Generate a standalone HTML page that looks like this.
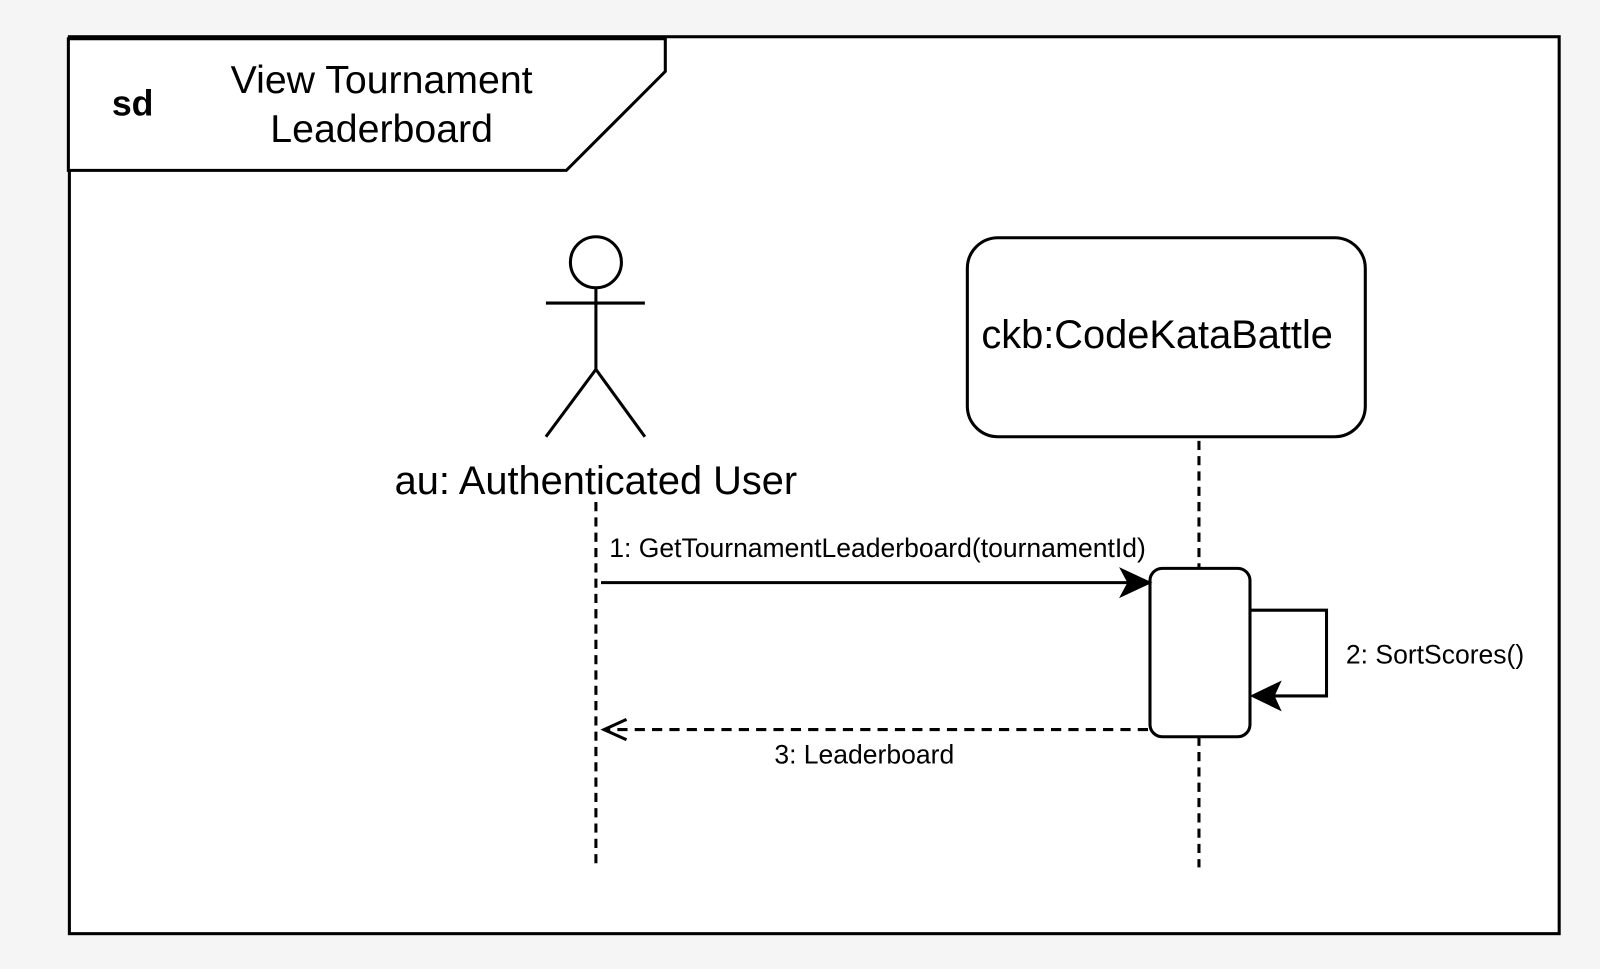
<!DOCTYPE html>
<html><head><style>
html,body{margin:0;padding:0;background:#f5f5f5;}
svg{display:block;}
text{font-family:"Liberation Sans",Arial,sans-serif;fill:#000;}
</style></head><body>
<svg width="1600" height="969" viewBox="0 0 1600 969" xmlns="http://www.w3.org/2000/svg">
<rect x="0" y="0" width="1600" height="969" fill="#f5f5f5"/>
<g transform="scale(1.0204)">
<rect x="68" y="36" width="1460" height="879" fill="#fff" stroke="#000" stroke-width="3"/>
<path d="M67 38 L652 38 L652 70 L555 167 L67 167 Z" fill="#fff" stroke="#000" stroke-width="3"/>
<text x="130" y="113" font-size="35" font-weight="bold" text-anchor="middle">sd</text>
<text x="374" y="91" font-size="38.5" text-anchor="middle">View Tournament</text>
<text x="374" y="139" font-size="38.5" text-anchor="middle">Leaderboard</text>
<g stroke="#000" stroke-width="3" fill="none">
<circle cx="584" cy="257" r="25" fill="#fff"/>
<line x1="584" y1="282" x2="584" y2="362"/>
<line x1="535" y1="297" x2="632" y2="297"/>
<line x1="584" y1="362" x2="535" y2="428"/>
<line x1="584" y1="362" x2="632" y2="428"/>
<rect x="948" y="233" width="390" height="195" rx="30" fill="#fff"/>
<line x1="584" y1="492" x2="584" y2="850" stroke-dasharray="9,6"/>
<line x1="1175" y1="432" x2="1175" y2="557" stroke-dasharray="9,6"/>
<line x1="1175" y1="722" x2="1175" y2="850" stroke-dasharray="9,6"/>
<rect x="1127" y="557" width="98" height="165" rx="12" fill="#fff"/>
<line x1="589" y1="571" x2="1110" y2="571"/>
<polyline points="1225,598 1300,598 1300,682 1245,682"/>
<line x1="1125" y1="715" x2="594" y2="715" stroke-dasharray="10,7"/>
<polyline points="614,705 592,715 614,725"/>
</g>
<path d="M1127 571 L1099 558 L1106 571 L1099 584 Z" fill="#000" stroke="#000" stroke-width="2"/>
<path d="M1227 682 L1254 669 L1248 682 L1254 695 Z" fill="#000" stroke="#000" stroke-width="2"/>
<text x="584" y="484" font-size="39" text-anchor="middle">au: Authenticated User</text>
<text x="1134" y="341" font-size="39" text-anchor="middle">ckb:CodeKataBattle</text>
<text x="860" y="546" font-size="26" text-anchor="middle">1: GetTournamentLeaderboard(tournamentId)</text>
<text x="1319" y="650" font-size="26">2: SortScores()</text>
<text x="847" y="748" font-size="26" text-anchor="middle">3: Leaderboard</text>
</g>
</svg>
</body></html>
